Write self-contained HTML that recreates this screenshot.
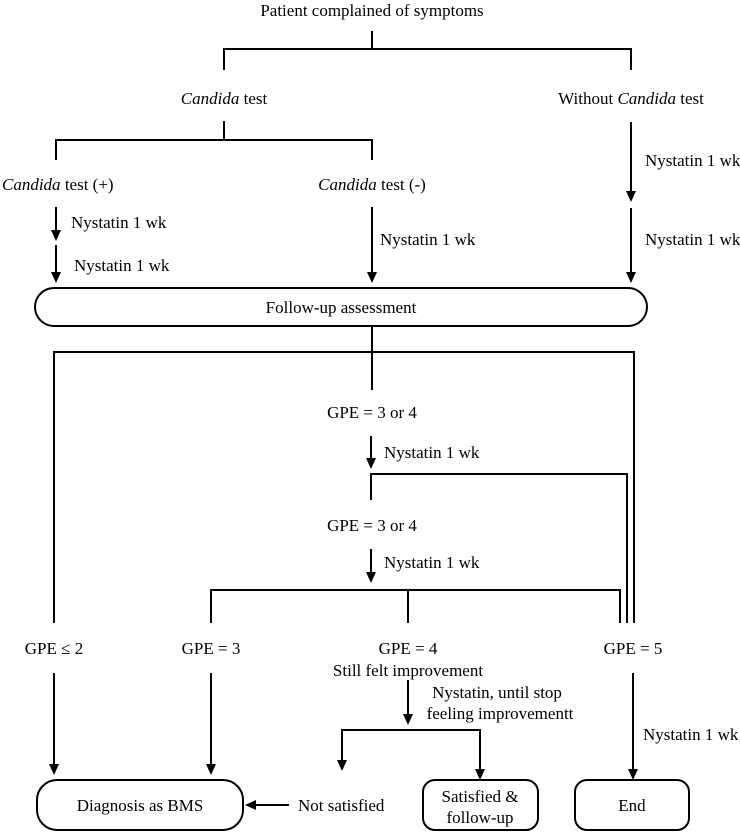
<!DOCTYPE html>
<html><head><meta charset="utf-8"><style>
html,body{margin:0;padding:0;background:#fff;}
svg{display:block;}
text{font-family:"Liberation Serif",serif;font-size:17px;fill:#000;}
</style></head><body>
<svg width="740" height="834" viewBox="0 0 740 834" xmlns="http://www.w3.org/2000/svg">
<g stroke="#000" stroke-width="2" fill="none">
<path d="M372,31 V49 M224,70 V49 H631 V70"/>
<path d="M224,121 V140 M56,160 V140 H372 V160"/>
<path d="M56,207 V232 M56,245 V274 M372,207 V274 M631,122 V194 M631,208 V274"/>
<rect x="35" y="288" width="612" height="38" rx="19" ry="19"/>
<path d="M372,326 V390"/>
<path d="M54,623 V352 H634 V623"/>
<path d="M371,436 V460"/>
<path d="M371,500 V474 H627 V623"/>
<path d="M371,549 V574"/>
<path d="M211,623 V590 H620 V623 M408,590 V623"/>
<path d="M54,673 V766 M211,673 V766 M633,673 V771 M408,680 V716"/>
<path d="M342,762 V730 H480 V771"/>
<path d="M289,805 H254"/>
<rect x="37" y="780" width="206" height="50" rx="20" ry="20"/>
<rect x="423" y="780" width="115" height="50" rx="12" ry="12"/>
<rect x="575" y="780" width="114" height="50" rx="12" ry="12"/>
</g>
<g fill="#000">
<polygon points="51,230 61,230 56,241"/>
<polygon points="51,272 61,272 56,283"/>
<polygon points="367,272 377,272 372,283"/>
<polygon points="626,191 636,191 631,202"/>
<polygon points="626,272 636,272 631,283"/>
<polygon points="366,458 376,458 371,469"/>
<polygon points="366,572 376,572 371,583"/>
<polygon points="49,764 59,764 54,775"/>
<polygon points="206,764 216,764 211,775"/>
<polygon points="628,769 638,769 633,780"/>
<polygon points="403,714 413,714 408,725"/>
<polygon points="337,760 347,760 342,771"/>
<polygon points="475,769 485,769 480,780"/>
<polygon points="256,800 256,810 245,805"/>
</g>
<g>
<text x="372" y="16" text-anchor="middle">Patient complained of symptoms</text>
<text x="224" y="104" text-anchor="middle"><tspan font-style="italic">Candida</tspan> test</text>
<text x="631" y="104" text-anchor="middle">Without <tspan font-style="italic">Candida</tspan> test</text>
<text x="2" y="190"><tspan font-style="italic">Candida</tspan> test (+)</text>
<text x="372" y="190" text-anchor="middle"><tspan font-style="italic">Candida</tspan> test (-)</text>
<text x="71" y="228">Nystatin 1 wk</text>
<text x="74" y="271">Nystatin 1 wk</text>
<text x="380" y="245">Nystatin 1 wk</text>
<text x="645" y="166">Nystatin 1 wk</text>
<text x="645" y="245">Nystatin 1 wk</text>
<text x="341" y="313" text-anchor="middle">Follow-up assessment</text>
<text x="372" y="418" text-anchor="middle">GPE = 3 or 4</text>
<text x="384" y="458">Nystatin 1 wk</text>
<text x="372" y="531" text-anchor="middle">GPE = 3 or 4</text>
<text x="384" y="568">Nystatin 1 wk</text>
<text x="54" y="654" text-anchor="middle">GPE ≤ 2</text>
<text x="211" y="654" text-anchor="middle">GPE = 3</text>
<text x="408" y="654" text-anchor="middle">GPE = 4</text>
<text x="633" y="654" text-anchor="middle">GPE = 5</text>
<text x="408" y="676" text-anchor="middle">Still felt improvement</text>
<text x="497" y="698" text-anchor="middle">Nystatin, until stop</text>
<text x="500" y="719" text-anchor="middle">feeling improvementt</text>
<text x="643" y="740">Nystatin 1 wk</text>
<text x="140" y="811" text-anchor="middle">Diagnosis as BMS</text>
<text x="298" y="811">Not satisfied</text>
<text x="480" y="802" text-anchor="middle">Satisfied &amp;</text>
<text x="480" y="823" text-anchor="middle">follow-up</text>
<text x="632" y="811" text-anchor="middle">End</text>
</g>
</svg>
</body></html>
